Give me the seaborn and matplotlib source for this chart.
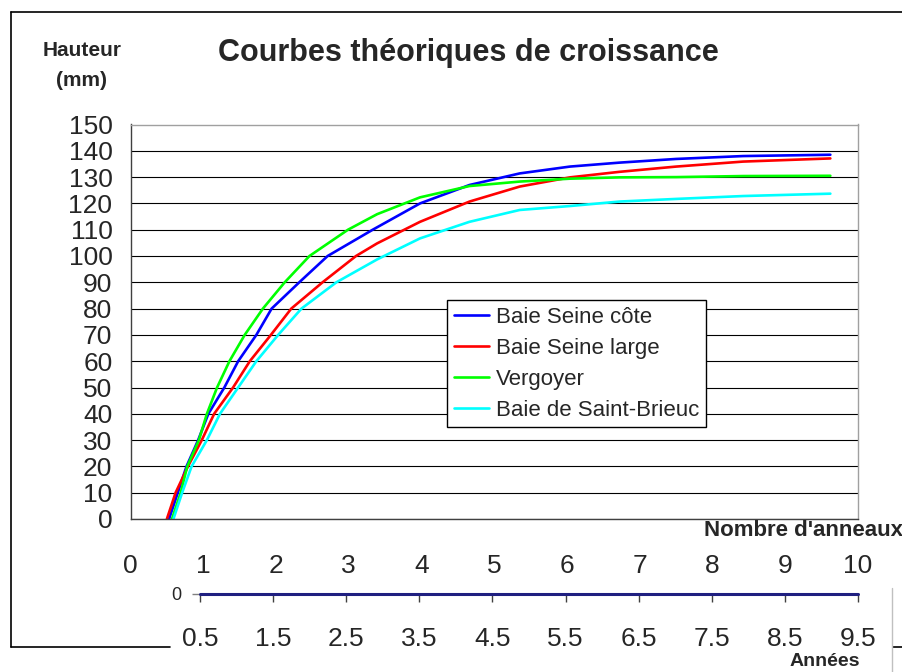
import numpy as np
import pandas as pd
import matplotlib.pyplot as plt
import seaborn as sns
from matplotlib.lines import Line2D

# courbes (nombre d'anneaux -> hauteur en mm)
cote_x = [0.53, 0.65, 0.77, 0.93, 1.07, 1.29, 1.48, 1.73, 1.94, 2.32, 2.71, 3.33, 3.98, 4.66, 5.35, 6.04, 6.72, 7.50, 8.42, 9.62]
cote_y = [0, 10, 20, 30, 40, 50, 60, 70, 80, 90, 100, 110, 120, 127, 131.4, 134, 135.5, 136.9, 138, 138.5]

large_x = [0.50, 0.62, 0.79, 0.98, 1.15, 1.41, 1.64, 1.93, 2.21, 2.64, 3.10, 3.39, 3.98, 4.66, 5.35, 6.04, 6.72, 7.50, 8.42, 9.62]
large_y = [0, 10, 20, 30, 40, 50, 60, 70, 80, 90, 100, 104.8, 113, 120.7, 126.4, 129.9, 132, 134, 135.9, 137.1]

vergoyer_x = [0.57, 0.69, 0.78, 0.94, 1.05, 1.19, 1.36, 1.57, 1.82, 2.12, 2.46, 2.99, 3.39, 3.98, 4.66, 5.35, 6.04, 6.72, 7.50, 8.42, 9.62]
vergoyer_y = [0, 10, 20, 30, 40, 50, 60, 70, 80, 90, 100, 110, 115.9, 122.3, 126.6, 128.3, 129.4, 129.9, 130, 130.4, 130.5]

brieuc_x = [0.59, 0.71, 0.84, 1.05, 1.23, 1.48, 1.73, 2.03, 2.35, 2.83, 3.39, 3.98, 4.66, 5.35, 6.04, 6.72, 7.50, 8.42, 9.62]
brieuc_y = [0, 10, 20, 30, 40, 50, 60, 70, 80, 90, 98.7, 106.7, 113, 117.5, 119, 120.7, 121.7, 122.8, 123.7]

sites = ['Baie Seine côte', 'Baie Seine large', 'Vergoyer', 'Baie de Saint-Brieuc']
couleurs = ['#0000FF', '#FF0000', '#00FF00', '#00FFFF']

anneaux_ticks = list(range(0, 11))
hauteur_ticks = list(range(0, 151, 10))
annees = [0.5, 1.5, 2.5, 3.5, 4.5, 5.5, 6.5, 7.5, 8.5, 9.5]
annees_zero = [0, 0, 0, 0, 0, 0, 0, 0, 0, 0]

df = pd.concat([
    pd.DataFrame({'anneaux': cote_x, 'hauteur': cote_y, 'site': sites[0]}),
    pd.DataFrame({'anneaux': large_x, 'hauteur': large_y, 'site': sites[1]}),
    pd.DataFrame({'anneaux': vergoyer_x, 'hauteur': vergoyer_y, 'site': sites[2]}),
    pd.DataFrame({'anneaux': brieuc_x, 'hauteur': brieuc_y, 'site': sites[3]}),
], ignore_index=True)

sns.set_style('white')
plt.rcParams['font.family'] = ['Liberation Sans', 'DejaVu Sans']

W, H = 903, 672
fig = plt.figure(figsize=(W / 100, H / 100), dpi=100)
ax = fig.add_axes([130.5 / W, (H - 519) / H, 727.5 / W, 394.5 / H])

sns.lineplot(data=df, x='anneaux', y='hauteur', hue='site', hue_order=sites,
             palette=couleurs, linewidth=1.9, estimator=None, sort=False, ax=ax)

ax.set_xlim(0, 10)
ax.set_ylim(0, 150)
ax.set_xticks(anneaux_ticks)
ax.set_yticks(hauteur_ticks)
ax.set_xlabel('')
ax.set_ylabel('')
ax.yaxis.grid(True, color='black', linewidth=0.8)
ax.set_axisbelow(True)
ax.tick_params(axis='x', direction='out', length=5.5, width=1, color='#404040',
               labelsize=19, pad=20)
ax.tick_params(axis='y', direction='out', length=6, width=1, color='#404040',
               labelsize=19, pad=7)
for s in ['top', 'right']:
    ax.spines[s].set_color('#A0A0A0')
    ax.spines[s].set_linewidth(1)
for s in ['left', 'bottom']:
    ax.spines[s].set_color('#404040')
    ax.spines[s].set_linewidth(1)

handles, labels = ax.get_legend_handles_labels()
leg = ax.legend(handles, labels, loc='upper left', bbox_to_anchor=(0.435, 0.555),
                borderaxespad=0, fontsize=16, frameon=True, fancybox=False,
                handlelength=1.6, handletextpad=0.3, labelspacing=0.45,
                borderpad=0.3, framealpha=1)
leg.get_frame().set_edgecolor('black')
leg.get_frame().set_linewidth(1)

# axe secondaire (années)
ax2 = fig.add_axes([200 / W, (H - 594) / H, 658 / W, 0.04])
sns.lineplot(x=annees, y=annees_zero, color='#1F1F80', linewidth=2.2, ax=ax2, clip_on=False)
ax2.set_xlim(0.5, 9.5)
ax2.set_ylim(0, 1)
ax2.set_xticks(annees)
ax2.set_xticklabels([str(a) for a in annees])
ax2.set_yticks([0])
ax2.set_yticklabels(['0'])
for s in ax2.spines.values():
    s.set_visible(False)
ax2.patch.set_alpha(0)
ax2.tick_params(axis='x', direction='out', length=5.5, width=1, color='#404040',
                labelsize=19, pad=18, bottom=True)
ax2.tick_params(axis='y', direction='out', length=5.5, width=1, color='#808080',
                labelsize=13, pad=8, left=True)

# textes
fig.text(468 / W, 1 - 53 / H, 'Courbes théoriques de croissance', ha='center', va='center',
         fontsize=22, fontweight='bold')
fig.text(82 / W, 1 - 50 / H, 'Hauteur', ha='center', va='center', fontsize=15, fontweight='bold')
fig.text(82 / W, 1 - 80 / H, '(mm)', ha='center', va='center', fontsize=15, fontweight='bold')
fig.text(903 / W, 1 - 530 / H, "Nombre d'anneaux", ha='right', va='center',
         fontsize=16, fontweight='bold')
fig.text(825 / W, 1 - 661 / H, 'Années', ha='center', va='center', fontsize=14, fontweight='bold')

# cadre du graphique
def ligne(x0, y0, x1, y1, color='black', lw=1.2):
    fig.add_artist(Line2D([x0 / W, x1 / W], [1 - y0 / H, 1 - y1 / H], color=color,
                          linewidth=lw, transform=fig.transFigure))

ligne(11, 12, W, 12)
ligne(11, 12, 11, 647)
ligne(11, 647, 170, 647)
ligne(893, 647, W, 647)
ligne(892, 588, 892, H, color='#C0C0C0', lw=1)

fig.savefig('out.png', dpi=100)
